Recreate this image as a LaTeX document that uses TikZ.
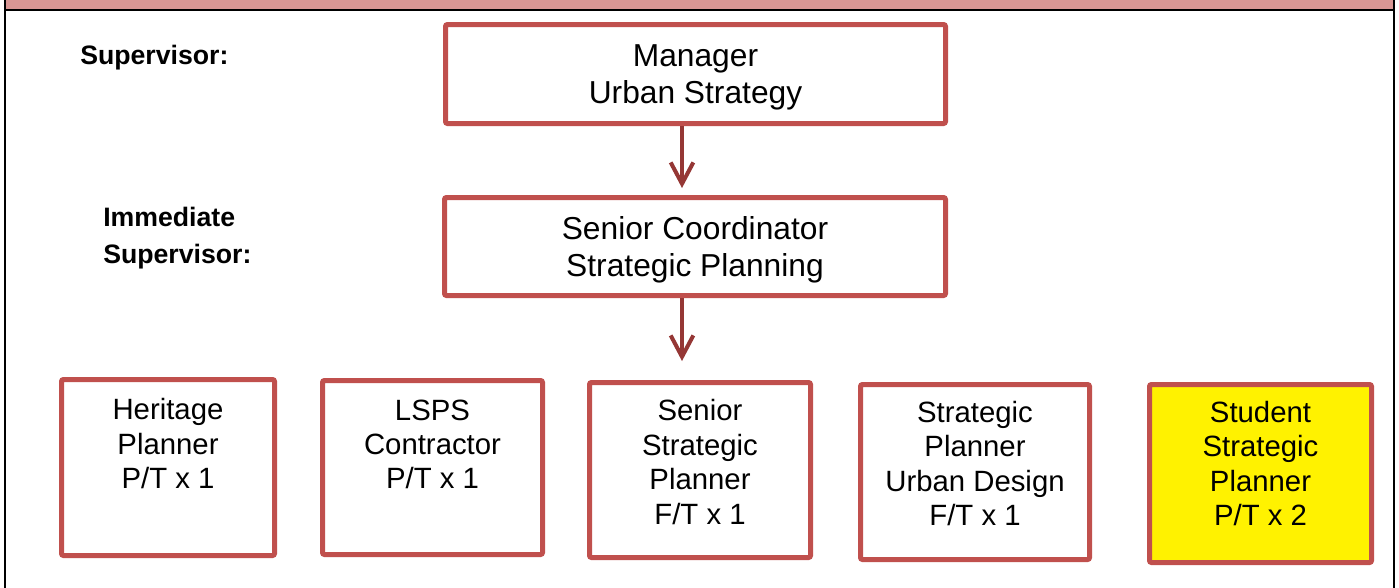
\documentclass[tikz,border=0pt]{standalone}
\usepackage{fontspec}
\setmainfont{Liberation Sans}
\usetikzlibrary{arrows.meta}
\definecolor{boxred}{HTML}{C0504D}
\definecolor{arrowred}{HTML}{953735}
\definecolor{bandpink}{HTML}{D99694}
\begin{document}
\begin{tikzpicture}[x=0.75pt,y=-0.75pt,
  orgbox/.style={draw=boxred, line width=3.75pt, rounded corners=1.5pt, inner sep=0pt},
  boxtext/.style={align=center, anchor=north, inner sep=0pt, font=\fontsize{22}{25.8}\selectfont},
  toptext/.style={align=center, text depth=0pt, font=\fontsize{23.8}{28}\selectfont},
  rolelabel/.style={align=left, anchor=north west, inner sep=0pt, font=\fontsize{20}{27.5}\selectfont\bfseries},
  link/.style={draw=arrowred, line width=3pt,
    -{Straight Barb[length=16pt,width=17pt,line width=3pt]}}
]
\useasboundingbox (0,0) rectangle (1399,587);

% frame with coloured title band
\begin{scope}
  \clip (0,0) rectangle (1399,587);
  \fill[bandpink] (5,-5) rectangle (1394,10);
  \draw[line width=2pt] (5,-5) rectangle (1394,620);
  \draw[line width=2pt] (5,10) -- (1394,10);
\end{scope}

% row labels
\node[rolelabel] (lsup) at (80,45) {Supervisor:};
\node[rolelabel] (limm) at (103,207) {Immediate\\Supervisor:};

% upper boxes
\node[orgbox, toptext, minimum width=375pt, minimum height=74.25pt] (mgr) at (695.5,74)
  {Manager\\Urban Strategy};
\node[orgbox, toptext, minimum width=375.75pt, minimum height=73.5pt] (sc) at (695,246.5)
  {Senior Coordinator\\Strategic Planning};

% lower boxes
\node[orgbox, minimum width=159.75pt, minimum height=132pt] (b1) at (168,467.5) {};
\node[orgbox, minimum width=165pt, minimum height=130.5pt] (b2) at (432.5,467.5) {};
\node[orgbox, minimum width=165.75pt, minimum height=131.25pt] (b3) at (700,470) {};
\node[orgbox, minimum width=171.75pt, minimum height=131.25pt] (b4) at (975,472) {};
\node[orgbox, fill=yellow, minimum width=166.5pt, minimum height=133.5pt] (b5) at (1260.5,473.5) {};

\node[boxtext] (t1) at ([yshift=-16pt]b1.north) {Heritage\\Planner\\P/T x 1};
\node[boxtext] (t2) at ([yshift=-16pt]b2.north) {LSPS\\Contractor\\P/T x 1};
\node[boxtext] (t3) at ([yshift=-14.5pt]b3.north) {Senior\\Strategic\\Planner\\F/T x 1};
\node[boxtext] (t4) at ([yshift=-14pt]b4.north) {Strategic\\Planner\\Urban Design\\F/T x 1};
\node[boxtext] (t5) at ([yshift=-14pt]b5.north) {Student\\Strategic\\Planner\\P/T x 2};

% reporting lines
\coordinate (a1) at (682,188);
\coordinate (a2) at (682,361);
\draw[link] (mgr.south -| a1) -- (a1);
\draw[link] (sc.south -| a2) -- (a2);
\end{tikzpicture}
\end{document}
